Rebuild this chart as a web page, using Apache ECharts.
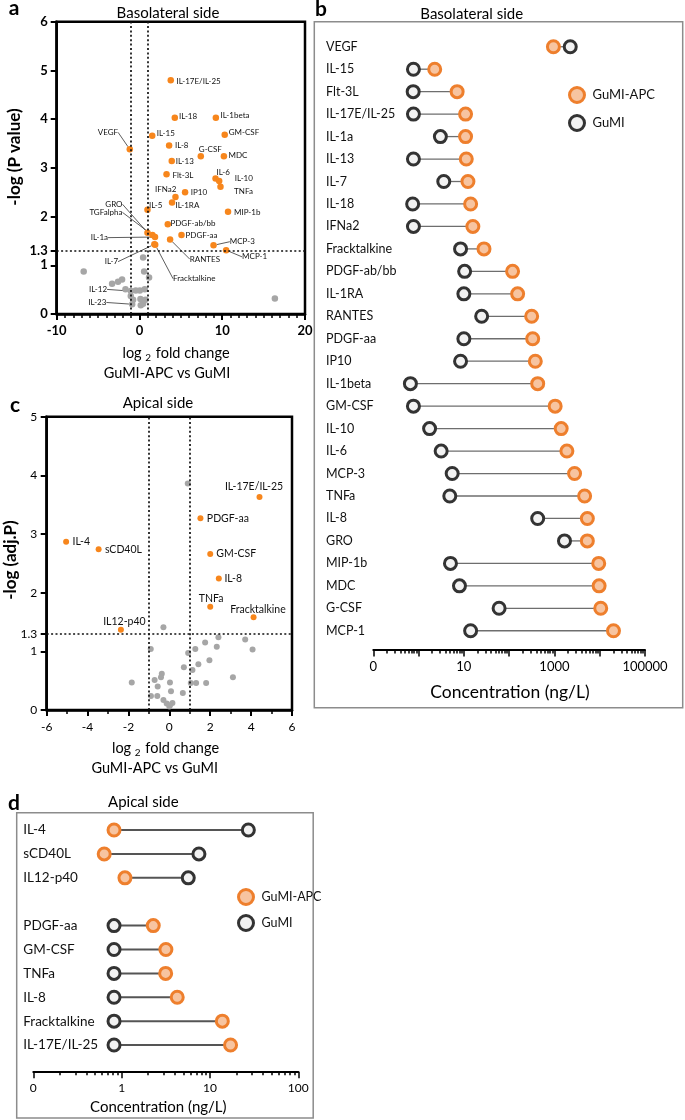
<!DOCTYPE html>
<html><head><meta charset="utf-8">
<script src="https://cdn.jsdelivr.net/npm/echarts@6/dist/echarts.min.js"></script>
<style>html,body{margin:0;padding:0;background:#fff}#c{width:685px;height:1120px}</style>
</head><body><div id="c"></div>
<script>
// ---------- Panel a: basolateral volcano ----------
const aSigNames = ['IL-17E/IL-25','IL-18','IL-1beta','VEGF','IL-15','GM-CSF','IL-8','G-CSF','MDC','IL-13','Flt-3L','IL-6','IL-10','TNFa','IP10','IFNa2','IL-1RA','IL-5','MIP-1b','PDGF-ab/bb','PDGF-aa','GRO','TGFalpha','IL-1a','RANTES','MCP-3','MCP-1','IL-7','Fracktalkine'];
const aSigFC = [3.78,4.27,9.23,-1.17,1.54,10.3,3.58,7.41,10.2,3.9,3.27,9.19,9.63,9.79,5.51,4.35,3.94,0.97,10.7,3.42,5.08,0.97,1.57,1.88,3.70,8.95,10.47,1.8,1.9];
const aSigP = [4.80,4.03,4.03,3.38,3.66,3.68,3.46,3.24,3.24,3.14,2.87,2.78,2.73,2.61,2.50,2.40,2.29,2.14,2.10,1.84,1.62,1.67,1.62,1.58,1.53,1.41,1.31,1.43,1.42];
const aNsNames = ['','','','','','','','','IL-12','','','','','','','','','','IL-23',''];
const aNsFC = [-6.74,0.44,0.56,1.16,-3.31,-2.59,-2.10,-1.69,-1.05,-0.45,0.04,0.64,-1.05,-0.77,0.12,0.73,0.44,0.16,-0.88,16.36];
const aNsP = [0.87,1.16,0.87,0.75,0.62,0.66,0.71,0.51,0.47,0.48,0.48,0.51,0.37,0.29,0.31,0.29,0.21,0.18,0.20,0.32];
const aYTicks = [0,1,1.3,2,3,4,5,6];

// ---------- Panel c: apical volcano ----------
const cSigNames = ['IL-17E/IL-25','PDGF-aa','IL-4','sCD40L','GM-CSF','IL-8','TNFa','Fracktalkine','IL12-p40'];
const cSigFC = [4.41,1.52,-5.05,-3.46,2.0,2.42,2.0,4.12,-2.37];
const cSigP = [3.63,3.27,2.87,2.74,2.66,2.24,1.76,1.58,1.37];
const cNsFC = [0.90,-0.29,-0.91,1.75,2.40,2.32,3.71,4.07,1.27,0.92,1.96,1.42,0.71,1.13,-0.37,3.11,-0.41,-0.72,-1.84,-0.57,0.03,1.05,1.31,1.80,0.08,0.66,-0.90,-0.59,-0.29,-0.13,0.0,0.15,0.03];
const cNsP = [3.86,1.41,1.04,1.15,1.24,1.08,1.20,1.03,1.04,0.97,0.85,0.78,0.73,0.68,0.62,0.56,0.56,0.51,0.47,0.40,0.47,0.46,0.46,0.46,0.32,0.29,0.24,0.24,0.17,0.11,0.06,0.12,0.08];
const cYTicks = [0,1,1.3,2,3,4,5];

// ---------- Panel b: basolateral concentrations ----------
const bCats = ['VEGF','IL-15','Flt-3L','IL-17E/IL-25','IL-1a','IL-13','IL-7','IL-18','IFNa2','Fracktalkine','PDGF-ab/bb','IL-1RA','RANTES','PDGF-aa','IP10','IL-1beta','GM-CSF','IL-10','IL-6','MCP-3','TNFa','IL-8','GRO','MIP-1b','MDC','G-CSF','MCP-1'];
const bGuMI = [2235,0.77,0.76,0.77,3.03,0.77,3.6,0.74,0.77,8.45,10.4,10,24.7,10,8.45,0.66,0.77,1.75,3.15,5.52,4.89,427,1668,5.06,8.0,60,14.1];
const bAPC = [950,2.27,7.1,10.9,10.9,11.3,12.3,14.1,15.8,27.8,119,154,314,331,378,427,1037,1409,1884,2782,4642,5330,5330,9506,9700,10530,20140];
const bMajorTicks = [0.1,1,10,100,1000,10000,100000];
const bLabelVals = [0.1,10,1000,100000];

// ---------- Panel d: apical concentrations ----------
const dCats = ['IL-4','sCD40L','IL12-p40','','PDGF-aa','GM-CSF','TNFa','IL-8','Fracktalkine','IL-17E/IL-25'];
const dGuMI = [27.2,7.5,5.68,null,0.82,0.82,0.82,0.82,0.82,0.82];
const dAPC = [0.82,0.635,1.09,null,2.28,3.17,3.15,4.26,13.8,17.1];
const dMajorTicks = [0.1,1,10,100];
const dLabelVals = [0.1,1,10,100];

function minorsOf(majors){const out=[];for(let i=0;i<majors.length-1;i++)for(let k=2;k<=9;k++)out.push(+(majors[i]*k).toPrecision(3));return out;}
const FONT = 'Lato';
const ORANGE = '#F7861C', GRAY = '#A6A6A6';
const APC_FILL = '#F7C4A0', APC_STROKE = '#EE7F2D', GUMI_FILL = '#F2F2F2', GUMI_STROKE = '#333333';

// label offsets (style only)
const aOff = {
 'IL-17E/IL-25':[5.7,1,'left'],'IL-18':[4.3,-1,'left'],'IL-1beta':[4.7,-2,'left'],'IL-15':[4.6,-2,'left'],'GM-CSF':[4,-2,'left'],
 'IL-8':[6,0,'left'],'G-CSF':[-2,-7,'left'],'MDC':[4.7,-1,'left'],'IL-13':[4,0,'left'],'Flt-3L':[6,1.7,'left'],'IL-6':[1,-6,'left'],
 'IL-10':[15.7,-2.7,'left'],'TNFa':[13.6,4.3,'left'],'IP10':[5.7,0,'left'],'IFNa2':[1,-7.3,'right'],'IL-1RA':[3.4,3,'left'],
 'IL-5':[1.6,-4,'left'],'MIP-1b':[6,0.5,'left'],'PDGF-ab/bb':[2.7,-1,'left'],'PDGF-aa':[4,0,'left'],
 'VEGF':[-11.7,-17,'right'],'MCP-3':[16.3,-3.6,'left'],'MCP-1':[16,6.7,'left'],'RANTES':[19.7,19.7,'left'],
 'Fracktalkine':[17.9,33.9,'left'],'IL-7':[-36.3,17.3,'right'],'GRO':[-25,-28.4,'right'],'TGFalpha':[-30,-22.7,'right'],
 'IL-1a':[-47,0.6,'right'],'IL-12':[-23.7,-1.7,'right'],'IL-23':[-25.8,-1.8,'right']
};
const aLeaders = ['VEGF','MCP-3','MCP-1','RANTES','Fracktalkine','IL-7','GRO','TGFalpha','IL-1a','IL-12','IL-23'];
const cOff = {
 'IL-17E/IL-25':[-5.5,-10,'center'],'PDGF-aa':[6.4,0,'left'],'IL-4':[6.4,0,'left'],'sCD40L':[6.3,0,'left'],'GM-CSF':[6,0,'left'],
 'IL-8':[5.6,0,'left'],'TNFa':[0.8,-7.7,'center'],'Fracktalkine':[4.4,-7.7,'center'],'IL12-p40':[3.5,-7.6,'center']
};
function makeLayout(names, offs){
  return function(p){
    const o = offs[names[p.dataIndex]] || [5,0,'left'];
    const r = p.rect;
    return {x: r.x + r.width/2 + o[0], y: r.y + r.height/2 + o[1], align: o[2], verticalAlign: 'middle'};
  };
}
const leaderStyle = {color:'#333', width:0.8};

const gA = {left:56.7, top:21.7, width:248.3, height:292.3, show:true, borderColor:'#000', borderWidth:2.5};
const gB = {left:373.3, top:35.5, width:271.7, height:606.5};
const gC = {left:46.7, top:416.7, width:245.3, height:293.3, show:true, borderColor:'#000', borderWidth:2.5};
const gD = {left:33.3, top:818.1, width:265, height:238.9};

function volcanoY(grid, max, ticks, bold, fs, margin){
  return {type:'value', gridIndex:grid, min:0, max:max, position:'left',
    axisLine:{show:true, onZero:false, lineStyle:{color:'#000', width:2.5}},
    axisTick:{show:true, customValues:ticks, length:6, lineStyle:{color:'#000', width:2}},
    axisLabel:{customValues:ticks, fontSize:fs, fontWeight:bold?'bold':'normal', color:'#000', margin:margin, fontFamily:FONT},
    splitLine:{show:false}};
}
function volcanoX(grid, min, max, interval, minorSplit, bold, fs, margin){
  return {type:'value', gridIndex:grid, min:min, max:max, interval:interval, position:'bottom',
    axisLine:{show:true, onZero:false, lineStyle:{color:'#000', width:2.5}},
    axisTick:{show:true, length:6, lineStyle:{color:'#000', width:2}},
    minorTick:{show:true, splitNumber:minorSplit, length:4, lineStyle:{color:'#000', width:1.5}},
    axisLabel:{fontSize:fs, fontWeight:bold?'bold':'normal', color:'#000', margin:margin, fontFamily:FONT},
    splitLine:{show:false}, minorSplitLine:{show:false}};
}
function logX(grid, min, max, offset, ticks, labels, fs, isMinor){
  return {type:'log', logBase:10, gridIndex:grid, min:min, max:max, offset:offset, position:'bottom',
    axisLine:{show:!isMinor, onZero:false, lineStyle:{color:'#000', width:2}},
    axisTick:{show:true, customValues:ticks, length:isMinor?3.5:6.5, lineStyle:{color:'#000', width:1.5}},
    axisLabel:{show:!isMinor, customValues:labels, fontSize:fs, color:'#000', margin:10, fontFamily:FONT,
      formatter:function(v){return v < 0.5 ? '0' : String(Math.round(v));}},
    splitLine:{show:false}};
}
function catY(grid, cats, margin, fs){
  return {type:'category', gridIndex:grid, data:cats, inverse:true, position:'left',
    axisLine:{show:false}, axisTick:{show:false}, splitLine:{show:false},
    axisLabel:{align:'left', margin:margin, fontSize:fs, color:'#111', fontFamily:FONT}};
}
function dumbbellLine(xi, yi, gumi, apc, width, color){
  const data = [];
  gumi.forEach((g,i)=>{ if(g!=null && apc[i]!=null) data.push([i, g, apc[i]]); });
  return {type:'custom', xAxisIndex:xi, yAxisIndex:yi, data:data, encode:{x:[1,2], y:0}, silent:true, z:1,
    renderItem:function(params, api){
      const c = api.value(0);
      const p1 = api.coord([api.value(1), c]);
      const p2 = api.coord([api.value(2), c]);
      return {type:'line', shape:{x1:p1[0], y1:p1[1], x2:p2[0], y2:p2[1]}, style:{stroke:color, lineWidth:width}};
    }};
}
function dots(name, xi, yi, cats, vals, fill, stroke){
  const data = [];
  vals.forEach((v,i)=>{ if(v!=null) data.push([v, cats[i]]); });
  return {type:'scatter', name:name, xAxisIndex:xi, yAxisIndex:yi, data:data, symbol:'circle', symbolSize:12, z:3,
    itemStyle:{color:fill, borderColor:stroke, borderWidth:3, opacity:1}};
}
const dottedLines = {silent:true, symbol:'none', label:{show:false}, animation:false,
  lineStyle:{type:[2,2.4], color:'#111', width:1.7}, data:[{xAxis:-1},{xAxis:1},{yAxis:1.3}]};

const legendItems = [
  {name:'GuMI-APC', itemStyle:{color:APC_FILL, borderColor:APC_STROKE, borderWidth:3}},
  {name:'GuMI', itemStyle:{color:GUMI_FILL, borderColor:GUMI_STROKE, borderWidth:3}}
];

function txt(text, x, y, font, align, rot){
  const o = {type:'text', x:x, y:y, style:{text:text, x:0, y:0, font:font, fill:'#000', align:align||'center', verticalAlign:'middle'}, silent:true};
  if (rot) o.rotation = rot;
  return o;
}
function fcTitle(x, y){
  return {type:'text', x:x, y:y, silent:true, style:{text:'{n|log }{s|2}{n| fold change}', x:0, y:0, align:'center', verticalAlign:'middle', fill:'#000',
    rich:{n:{fontSize:14.5, fontFamily:FONT, fill:'#000'}, s:{fontSize:10, fontFamily:FONT, fill:'#000', padding:[9,1,0,0]}}}};
}

const option = {
  animation:false, backgroundColor:'#fff', textStyle:{fontFamily:FONT},
  grid:[gA, gB, gC, gD],
  xAxis:[
    volcanoX(0, -10, 20, 10, 10, true, 13, 10),
    logX(1, 0.1, 100000, 8, bMajorTicks, bLabelVals, 13, false),
    logX(1, 0.1, 100000, 8, minorsOf(bMajorTicks), bLabelVals, 13, true),
    volcanoX(2, -6, 6, 2, 2, false, 12, 11),
    logX(3, 0.1, 100, 14.7, dMajorTicks, dLabelVals, 12, false),
    logX(3, 0.1, 100, 14.7, minorsOf(dMajorTicks), dLabelVals, 12, true)
  ],
  yAxis:[
    volcanoY(0, 6, aYTicks, true, 13, 9),
    catY(1, bCats, 47.3, 12.5),
    volcanoY(2, 5, cYTicks, false, 12, 9.5),
    catY(3, dCats, 10, 13.5)
  ],
  legend:[
    {data:legendItems, orient:'vertical', left:563, top:81, itemWidth:15, itemHeight:15, itemGap:10, icon:'circle', selectedMode:false,
     textStyle:{fontSize:13, color:'#111', fontFamily:FONT, padding:[0,0,0,3]}},
    {data:legendItems, orient:'vertical', left:232, top:883, itemWidth:15, itemHeight:15, itemGap:8, icon:'circle', selectedMode:false,
     textStyle:{fontSize:12.5, color:'#111', fontFamily:FONT, padding:[0,0,0,3]}}
  ],
  graphic:[
    {type:'rect', shape:{x:314.3, y:21.7, width:368.4, height:686}, style:{fill:'none', stroke:'#8c8c8c', lineWidth:1.5}, silent:true},
    {type:'rect', shape:{x:16.7, y:812.7, width:296.5, height:305.3}, style:{fill:'none', stroke:'#8c8c8c', lineWidth:1.5}, silent:true},
    txt('a', 14, 8, 'bold 21px Lato'),
    txt('b', 321, 9.7, 'bold 21px Lato'),
    txt('c', 15, 405.5, 'bold 21px Lato'),
    txt('d', 14, 803, 'bold 21px Lato'),
    txt('Basolateral side', 168, 13.5, '15px Lato'),
    txt('Basolateral side', 471.7, 14.5, '15px Lato'),
    txt('Apical side', 158, 403, '15px Lato'),
    txt('Apical side', 143.3, 801.7, '15px Lato'),
    txt('-log (P value)', 15, 157, 'bold 17px Lato', 'center', Math.PI/2),
    txt('-log (adj.P)', 10.5, 560, 'bold 17px Lato', 'center', Math.PI/2),
    fcTitle(176, 353),
    txt('GuMI-APC vs GuMI', 167, 373.3, '14.5px Lato'),
    fcTitle(165.5, 748.3),
    txt('GuMI-APC vs GuMI', 154.7, 768.3, '14.5px Lato'),
    txt('Concentration (ng/L)', 510, 692, '17.5px Lato'),
    txt('Concentration (ng/L)', 158.3, 1106.7, '15px Lato')
  ],
  series:[
    {type:'scatter', name:'a-ns', xAxisIndex:0, yAxisIndex:0, symbolSize:6.5, z:2,
     itemStyle:{color:GRAY, opacity:1},
     data:aNsFC.map((x,i)=>({name:aNsNames[i], value:[x, aNsP[i]], label:{show:aNsNames[i]!==''}, labelLine:{show:aNsNames[i]!=='', lineStyle:leaderStyle}})),
     label:{show:false, formatter:'{b}', fontSize:8, color:'#111', fontFamily:FONT},
     labelLayout:makeLayout(aNsNames, aOff), labelLine:{show:false, lineStyle:leaderStyle},
     markLine:dottedLines},
    {type:'scatter', name:'a-sig', xAxisIndex:0, yAxisIndex:0, symbolSize:6.5, z:3,
     itemStyle:{color:ORANGE, opacity:1},
     data:aSigNames.map((n,i)=>({name:n, value:[aSigFC[i], aSigP[i]], labelLine:{show:aLeaders.includes(n), lineStyle:leaderStyle}})),
     label:{show:true, formatter:'{b}', fontSize:8, color:'#111', fontFamily:FONT},
     labelLayout:makeLayout(aSigNames, aOff), labelLine:{show:false, lineStyle:leaderStyle}},
    {type:'scatter', name:'c-ns', xAxisIndex:3, yAxisIndex:2, symbolSize:6, z:2,
     itemStyle:{color:GRAY, opacity:1},
     data:cNsFC.map((x,i)=>[x, cNsP[i]]),
     markLine:dottedLines},
    {type:'scatter', name:'c-sig', xAxisIndex:3, yAxisIndex:2, symbolSize:6, z:3,
     itemStyle:{color:ORANGE, opacity:1},
     data:cSigNames.map((n,i)=>({name:n, value:[cSigFC[i], cSigP[i]]})),
     label:{show:true, formatter:'{b}', fontSize:10.5, color:'#111', fontFamily:FONT},
     labelLayout:makeLayout(cSigNames, cOff)},
    dumbbellLine(1, 1, bGuMI, bAPC, 1.3, '#6e6e6e'),
    dots('GuMI', 1, 1, bCats, bGuMI, GUMI_FILL, GUMI_STROKE),
    dots('GuMI-APC', 1, 1, bCats, bAPC, APC_FILL, APC_STROKE),
    dumbbellLine(4, 3, dGuMI, dAPC, 2, '#555'),
    dots('GuMI', 4, 3, dCats, dGuMI, GUMI_FILL, GUMI_STROKE),
    dots('GuMI-APC', 4, 3, dCats, dAPC, APC_FILL, APC_STROKE)
  ]
};
const chart = echarts.init(document.getElementById('c'), null, {renderer:'canvas'});
chart.setOption(option);
</script></body></html>
